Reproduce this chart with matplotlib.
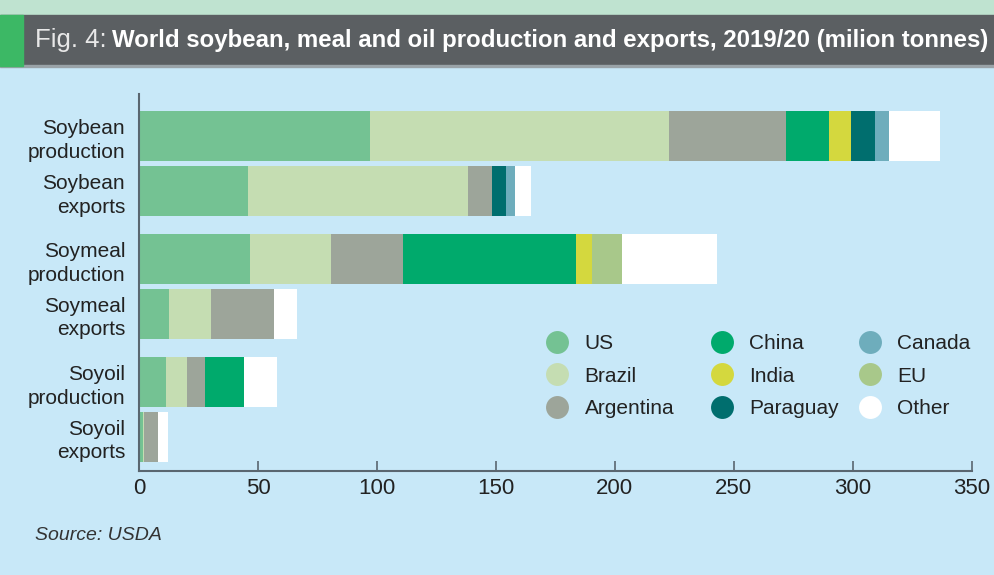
import numpy as np
import matplotlib
matplotlib.use("Agg")
import matplotlib.pyplot as plt
from matplotlib.lines import Line2D
from matplotlib.patches import Rectangle

plt.rcParams['font.family'] = ['Liberation Sans', 'DejaVu Sans']

# data (million tonnes)
categories = ['Soybean\nproduction', 'Soybean\nexports', 'Soymeal\nproduction',
              'Soymeal\nexports', 'Soyoil\nproduction', 'Soyoil\nexports']
countries = ['US', 'Brazil', 'Argentina', 'China', 'India', 'Paraguay', 'Canada', 'EU', 'Other']
us = [97.1, 45.8, 46.7, 12.6, 11.3, 1.5]
brazil = [125.7, 92.5, 34.0, 17.7, 8.9, 0.7]
argentina = [49.2, 10.1, 30.2, 26.4, 7.5, 5.8]
china = [18.0, 0, 72.9, 0, 16.4, 0]
india = [9.3, 0, 6.4, 0, 0, 0]
paraguay = [10.1, 5.9, 0, 0, 0, 0]
canada = [5.9, 3.7, 0, 0, 0, 0]
eu = [0, 0, 12.9, 0, 0, 0]
other = [21.4, 6.8, 39.9, 9.7, 13.9, 4.2]
xticks = [0, 50, 100, 150, 200, 250, 300, 350]

series = [us, brazil, argentina, china, india, paraguay, canada, eu, other]
colors = ['#74C293', '#C5DDB2', '#9DA59A', '#00AA6C', '#D4D83E',
          '#006E6E', '#6EADBC', '#A8C88A', '#FFFFFF']

bg = '#C8E8F8'
fig = plt.figure(figsize=(9.95, 5.75), dpi=100, facecolor=bg)

# header band
fig.patches.append(Rectangle((0, 1 - 15 / 575), 1, 15 / 575, transform=fig.transFigure,
                             color='#BFE3D0', zorder=0))
fig.patches.append(Rectangle((0, 1 - 66 / 575), 1, 51 / 575, transform=fig.transFigure,
                             color='#5B5F62', zorder=1))
fig.patches.append(Rectangle((0, 1 - 67 / 575), 1, 1.5 / 575, transform=fig.transFigure,
                             color='#9AA3A8', zorder=1))
fig.patches.append(Rectangle((0, 1 - 66 / 575), 23 / 995, 51 / 575, transform=fig.transFigure,
                             color='#3CB865', zorder=2))
t1 = fig.text(35 / 995, 1 - 47 / 575, 'Fig. 4: ', color='#E8E8E8', fontsize=18.5,
              va='baseline', ha='left', zorder=3)
fig.canvas.draw()
x1 = t1.get_window_extent(fig.canvas.get_renderer()).x1 / fig.bbox.width
fig.text(x1 - 2 / 995, 1 - 47 / 575,
         'World soybean, meal and oil production and exports, 2019/20 (milion tonnes)',
         color='white', fontsize=17.3, fontweight='bold', va='baseline', ha='left', zorder=3)

ax = fig.add_axes([139 / 995, 1 - 471 / 575, (971.7 - 139) / 995, (471 - 94) / 575])
ax.set_facecolor('none')

idx = np.arange(len(categories))
ypos = (idx // 2) * 2.464 + (idx % 2) * 1.096

left = np.zeros(len(categories))
for name, vals, c in zip(countries, series, colors):
    ax.barh(ypos, vals, left=left, height=1.0, color=c, linewidth=0, label=name)
    left += np.array(vals)

ax.set_xlim(0, 350)
ax.set_ylim(6.71, -0.85)
ax.set_xticks(xticks)
ax.set_yticks(ypos)
ax.set_yticklabels(categories, fontsize=15, color='#222222', linespacing=1.3)
ax.tick_params(axis='y', length=0, pad=10)
ax.tick_params(axis='x', direction='in', length=7, width=1.2, color='#5A6670',
               labelsize=16, labelcolor='#222222', pad=5)
for s in ['top', 'right']:
    ax.spines[s].set_visible(False)
for s in ['left', 'bottom']:
    ax.spines[s].set_color('#5A6670')
    ax.spines[s].set_linewidth(1.5)

# legend: three columns of three
handles = [Line2D([], [], marker='o', linestyle='none', markersize=16.5,
                  markerfacecolor=c, markeredgecolor='none') for c in colors]
col_x = [547, 712, 860]
for j, cx in enumerate(col_x):
    fig.legend(handles[3 * j:3 * j + 3], countries[3 * j:3 * j + 3], loc='upper left',
               bbox_to_anchor=(cx / 995, 1 - 334 / 575), ncol=1, frameon=False,
               fontsize=15, handlelength=1.0, handletextpad=0.8, labelspacing=0.65,
               borderpad=0, borderaxespad=0, labelcolor='#222222')

fig.text(35 / 995, 1 - 535 / 575, 'Source: USDA', style='italic', fontsize=14,
         color='#333333', va='center', ha='left')

fig.savefig('out.png', dpi=100, facecolor=bg)
